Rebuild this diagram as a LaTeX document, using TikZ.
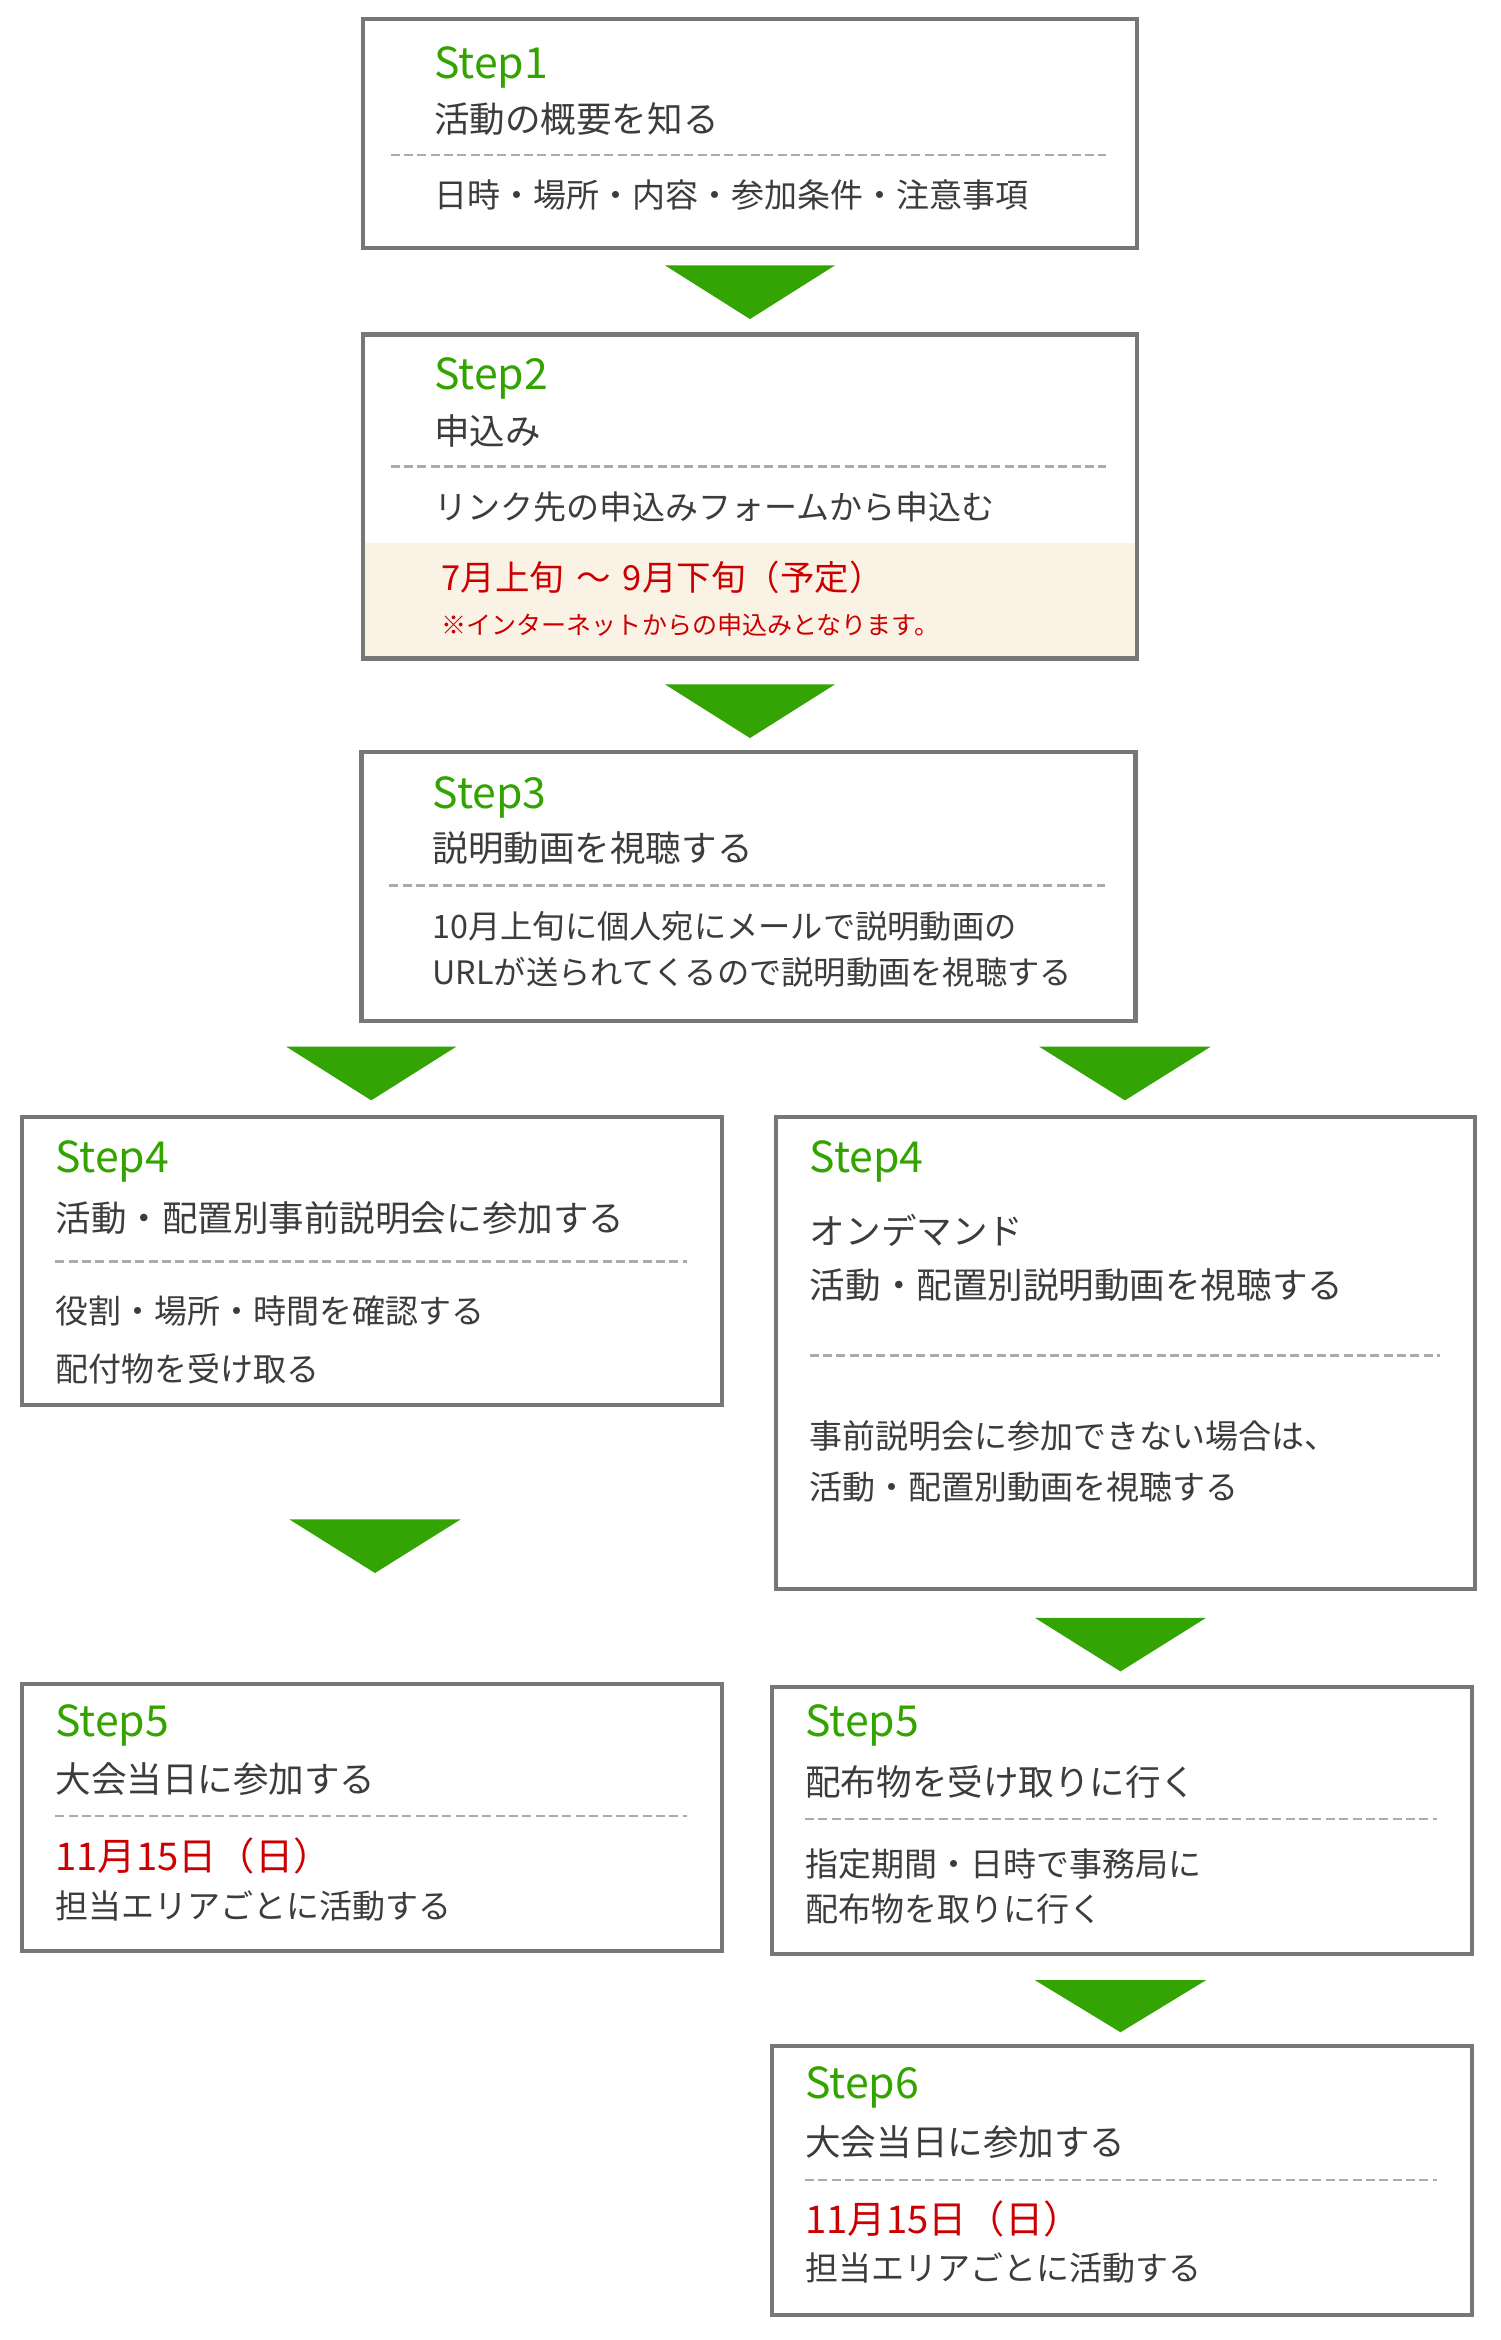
\documentclass[tikz,border=0pt]{standalone}
\usepackage{fontspec}
\setmainfont{Noto Sans CJK JP}
\definecolor{stepgreen}{HTML}{33A300}
\definecolor{arrowgreen}{HTML}{34A304}
\definecolor{bordergray}{HTML}{777777}
\definecolor{dashgray}{HTML}{ABABAB}
\definecolor{bodygray}{HTML}{3C3C3C}
\definecolor{noteRed}{HTML}{CC0000}
\definecolor{beige}{HTML}{FAF3E5}
\tikzset{
  stepbox/.style={draw=bordergray, line width=2.7pt, inner sep=0pt, outer sep=0pt},
  steplabel/.style={anchor=west, inner sep=0pt, text=stepgreen, font=\fontsize{28.5}{32}\selectfont},
  titletext/.style={anchor=west, inner sep=0pt, text=bodygray, font=\fontsize{23.7}{28}\selectfont},
  body/.style={anchor=west, inner sep=0pt, text=bodygray, font=\fontsize{22}{26}\selectfont},
  smallbody/.style={anchor=west, inner sep=0pt, text=bodygray, font=\fontsize{21.5}{26}\selectfont},
  datetext/.style={anchor=west, inner sep=0pt, text=noteRed, font=\fontsize{23}{28}\selectfont},
  bigdate/.style={anchor=west, inner sep=0pt, text=noteRed, font=\fontsize{25.5}{30}\selectfont},
  notetext/.style={anchor=west, inner sep=0pt, text=noteRed, font=\fontsize{16.7}{20}\selectfont},
  divider/.style={draw=dashgray, line width=1.8pt, dash pattern=on 6pt off 2.9pt},
  tri/.style={fill=arrowgreen},
}
\begin{document}
\begin{tikzpicture}[x=0.994pt,y=-0.994pt]
\useasboundingbox (0,0) rectangle (1006.04,1569.42);
\fill[white] (0,0) rectangle (1006.04,1569.42);

% ---------- Step 1 ----------
\node[stepbox, minimum width=516pt, minimum height=153pt] (b1) at (503,89.5) {};
\node[steplabel] (s1) at (291,45) {Step1};
\node[titletext] (s1t) at (291,80) {活動の概要を知る};
\coordinate (d1a) at (262,104); \coordinate (d1b) at (742,104);
\draw[divider] (d1a) -- (d1b);
\node[body] (s1d) at (291,131) {日時・場所・内容・参加条件・注意事項};

% arrow 1
\coordinate (a1l) at (446,178); \coordinate (a1r) at (560,178); \coordinate (a1t) at (503,214);
\fill[tri] (a1l) -- (a1r) -- (a1t) -- cycle;

% ---------- Step 2 ----------
\fill[beige] (245,364) rectangle (761,441);
\node[stepbox, minimum width=516pt, minimum height=216pt] (b2) at (503,333) {};
\node[steplabel] (s2) at (291,254) {Step2};
\node[titletext] (s2t) at (291,289) {申込み};
\coordinate (d2a) at (262,313); \coordinate (d2b) at (742,313);
\draw[divider] (d2a) -- (d2b);
\node[body] (s2d) at (291,340) {リンク先の申込みフォームから申込む};
\node[datetext] (s2date) at (296,387) {7月上旬\hspace{0.35em}～\hspace{0.35em}9月下旬（予定）};
\node[notetext] (s2note) at (296,419) {※インターネットからの申込みとなります。};

% arrow 2
\coordinate (a2l) at (446,459); \coordinate (a2r) at (560,459); \coordinate (a2t) at (503,495);
\fill[tri] (a2l) -- (a2r) -- (a2t) -- cycle;

% ---------- Step 3 ----------
\node[stepbox, minimum width=516pt, minimum height=179pt] (b3) at (502,594.5) {};
\node[steplabel] (s3) at (290,535) {Step3};
\node[titletext] (s3t) at (290,569) {説明動画を視聴する};
\coordinate (d3a) at (261,594); \coordinate (d3b) at (741,594);
\draw[divider] (d3a) -- (d3b);
\node[smallbody] (s3d1) at (290,621) {10月上旬に個人宛にメールで説明動画の};
\node[smallbody] (s3d2) at (290,652) {URLが送られてくるので説明動画を視聴する};

% arrows 3
\coordinate (a3l) at (192,702); \coordinate (a3r) at (306,702); \coordinate (a3t) at (249,738);
\fill[tri] (a3l) -- (a3r) -- (a3t) -- cycle;
\coordinate (a4l) at (697,702); \coordinate (a4r) at (812,702); \coordinate (a4t) at (754.5,738);
\fill[tri] (a4l) -- (a4r) -- (a4t) -- cycle;

% ---------- Step 4 left ----------
\node[stepbox, minimum width=467pt, minimum height=192pt] (b4l) at (249.5,846) {};
\node[steplabel] (s4l) at (37,779) {Step4};
\node[titletext] (s4lt) at (37,817) {活動・配置別事前説明会に参加する};
\coordinate (d4la) at (37,846); \coordinate (d4lb) at (461,846);
\draw[divider] (d4la) -- (d4lb);
\node[body] (s4ld1) at (37,879) {役割・場所・時間を確認する};
\node[body] (s4ld2) at (37,918) {配付物を受け取る};

% ---------- Step 4 right ----------
\node[stepbox, minimum width=466pt, minimum height=315pt] (b4r) at (755,907.5) {};
\node[steplabel] (s4r) at (543,779) {Step4};
\node[titletext] (s4rt1) at (543,825) {オンデマンド};
\node[titletext] (s4rt2) at (543,862) {活動・配置別説明動画を視聴する};
\coordinate (d4ra) at (543,909); \coordinate (d4rb) at (966,909);
\draw[divider] (d4ra) -- (d4rb);
\node[body] (s4rd1) at (543,963) {事前説明会に参加できない場合は、};
\node[body] (s4rd2) at (543,997) {活動・配置別動画を視聴する};

% arrows 4
\coordinate (a5l) at (194,1019); \coordinate (a5r) at (309,1019); \coordinate (a5t) at (251.5,1055);
\fill[tri] (a5l) -- (a5r) -- (a5t) -- cycle;
\coordinate (a6l) at (694,1085); \coordinate (a6r) at (809,1085); \coordinate (a6t) at (751.5,1121);
\fill[tri] (a6l) -- (a6r) -- (a6t) -- cycle;

% ---------- Step 5 left ----------
\node[stepbox, minimum width=467pt, minimum height=178pt] (b5l) at (249.5,1219) {};
\node[steplabel] (s5l) at (37,1157) {Step5};
\node[titletext] (s5lt) at (37,1193) {大会当日に参加する};
\coordinate (d5la) at (37,1218); \coordinate (d5lb) at (461,1218);
\draw[divider] (d5la) -- (d5lb);
\node[bigdate] (s5ldate) at (37,1245) {11月15日（日）};
\node[body] (s5ld) at (37,1278) {担当エリアごとに活動する};

% ---------- Step 5 right ----------
\node[stepbox, minimum width=467pt, minimum height=178pt] (b5r) at (752.5,1221) {};
\node[steplabel] (s5r) at (540,1157) {Step5};
\node[titletext] (s5rt) at (540,1195) {配布物を受け取りに行く};
\coordinate (d5ra) at (540,1220); \coordinate (d5rb) at (964,1220);
\draw[divider] (d5ra) -- (d5rb);
\node[body] (s5rd1) at (540,1250) {指定期間・日時で事務局に};
\node[body] (s5rd2) at (540,1280) {配布物を取りに行く};

% arrow 5
\coordinate (a7l) at (694,1328); \coordinate (a7r) at (809,1328); \coordinate (a7t) at (751.5,1363);
\fill[tri] (a7l) -- (a7r) -- (a7t) -- cycle;

% ---------- Step 6 ----------
\node[stepbox, minimum width=467pt, minimum height=179pt] (b6) at (752.5,1462.5) {};
\node[steplabel] (s6) at (540,1400) {Step6};
\node[titletext] (s6t) at (540,1437) {大会当日に参加する};
\coordinate (d6a) at (540,1462); \coordinate (d6b) at (964,1462);
\draw[divider] (d6a) -- (d6b);
\node[bigdate] (s6date) at (540,1488) {11月15日（日）};
\node[body] (s6d) at (540,1521) {担当エリアごとに活動する};
\end{tikzpicture}
\end{document}
